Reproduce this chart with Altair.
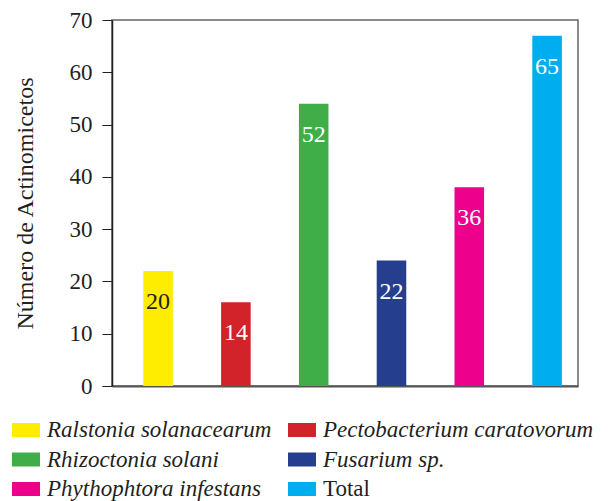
import altair as alt
import pandas as pd

names = [
    "Ralstonia solanacearum",
    "Pectobacterium caratovorum",
    "Rhizoctonia solani",
    "Fusarium sp.",
    "Phythophtora infestans",
    "Total",
]
bar_values = [22, 16, 54, 24, 38, 67]
bar_labels = [20, 14, 52, 22, 36, 65]
colors = ["#FFED00", "#D2232A", "#3FAE49", "#253F8E", "#EC008C", "#00AEEF"]
y_ticks = [0, 10, 20, 30, 40, 50, 60, 70]
y_title = "Número de Actinomicetos"

FONT = "Liberation Serif"
INK = "#231f20"

df = pd.DataFrame({"name": names, "value": bar_values, "label": bar_labels})
color_scale = alt.Scale(domain=names, range=colors)

x_enc = alt.X(
    "name:N",
    sort=names,
    scale=alt.Scale(paddingInner=0.62, paddingOuter=0.305, align=0.66),
    axis=alt.Axis(labels=False, ticks=False, title=None, domainColor="#555555", domainWidth=2),
)
y_enc = alt.Y(
    "value:Q",
    scale=alt.Scale(domain=[0, 70], nice=False),
    axis=alt.Axis(
        values=y_ticks,
        grid=False,
        title=y_title,
        titleFont=FONT,
        titleFontSize=24,
        titleFontWeight="normal",
        titleColor=INK,
        titlePadding=32,
        labelFont=FONT,
        labelFontSize=23,
        labelColor=INK,
        labelPadding=10,
        tickSize=10,
        tickColor=INK,
        domainColor=INK,
        domainWidth=1.5,
    ),
)

bars = alt.Chart(df).mark_bar().encode(
    x=x_enc,
    y=y_enc,
    color=alt.Color("name:N", scale=color_scale, legend=None),
)
texts = alt.Chart(df).mark_text(
    baseline="alphabetic", dy=38, fontSize=24, font=FONT
).encode(
    x=x_enc,
    y=y_enc,
    text="label:Q",
    color=alt.condition(
        alt.datum.name == "Ralstonia solanacearum", alt.value(INK), alt.value("#ffffff")
    ),
)
main = alt.layer(bars, texts).properties(
    width=466, height=366, view=alt.ViewBackground(stroke="#666666", strokeWidth=1.5)
)

leg_base = alt.Chart(pd.DataFrame({"name": names})).transform_window(
    idx="row_number()"
).transform_calculate(
    col="(datum.idx - 1) % 2", row="floor((datum.idx - 1) / 2)"
)
lx = alt.X("col:Q", scale=alt.Scale(domain=[0, 1], range=[-100, 176]), axis=None)
ly = alt.Y("row:Q", scale=alt.Scale(domain=[0, 2], range=[31, 90]), axis=None)

leg_sym = leg_base.mark_point(
    shape="M0,-0.5H2V0.5H0Z", size=784, filled=True, opacity=1, strokeWidth=0
).encode(x=lx, y=ly, color=alt.Color("name:N", scale=color_scale, legend=None))
leg_txt_i = leg_base.mark_text(
    align="left", baseline="middle", dx=35, fontSize=23, font=FONT, fontStyle="italic", color=INK
).encode(x=lx, y=ly, text="name:N").transform_filter(alt.datum.name != "Total")
leg_txt_n = leg_base.mark_text(
    align="left", baseline="middle", dx=35, fontSize=23, font=FONT, color=INK
).encode(x=lx, y=ly, text="name:N").transform_filter(alt.datum.name == "Total")

legend = alt.layer(leg_sym, leg_txt_i, leg_txt_n).properties(
    width=400, height=90, view=alt.ViewBackground(stroke="transparent", strokeWidth=0)
)

chart = alt.vconcat(main, legend, spacing=0).properties(
    padding={"left": 4, "top": 0, "right": 0, "bottom": 0}
).configure(background="white")

chart.save("out.html", embed_options={"renderer": "svg", "actions": False})
